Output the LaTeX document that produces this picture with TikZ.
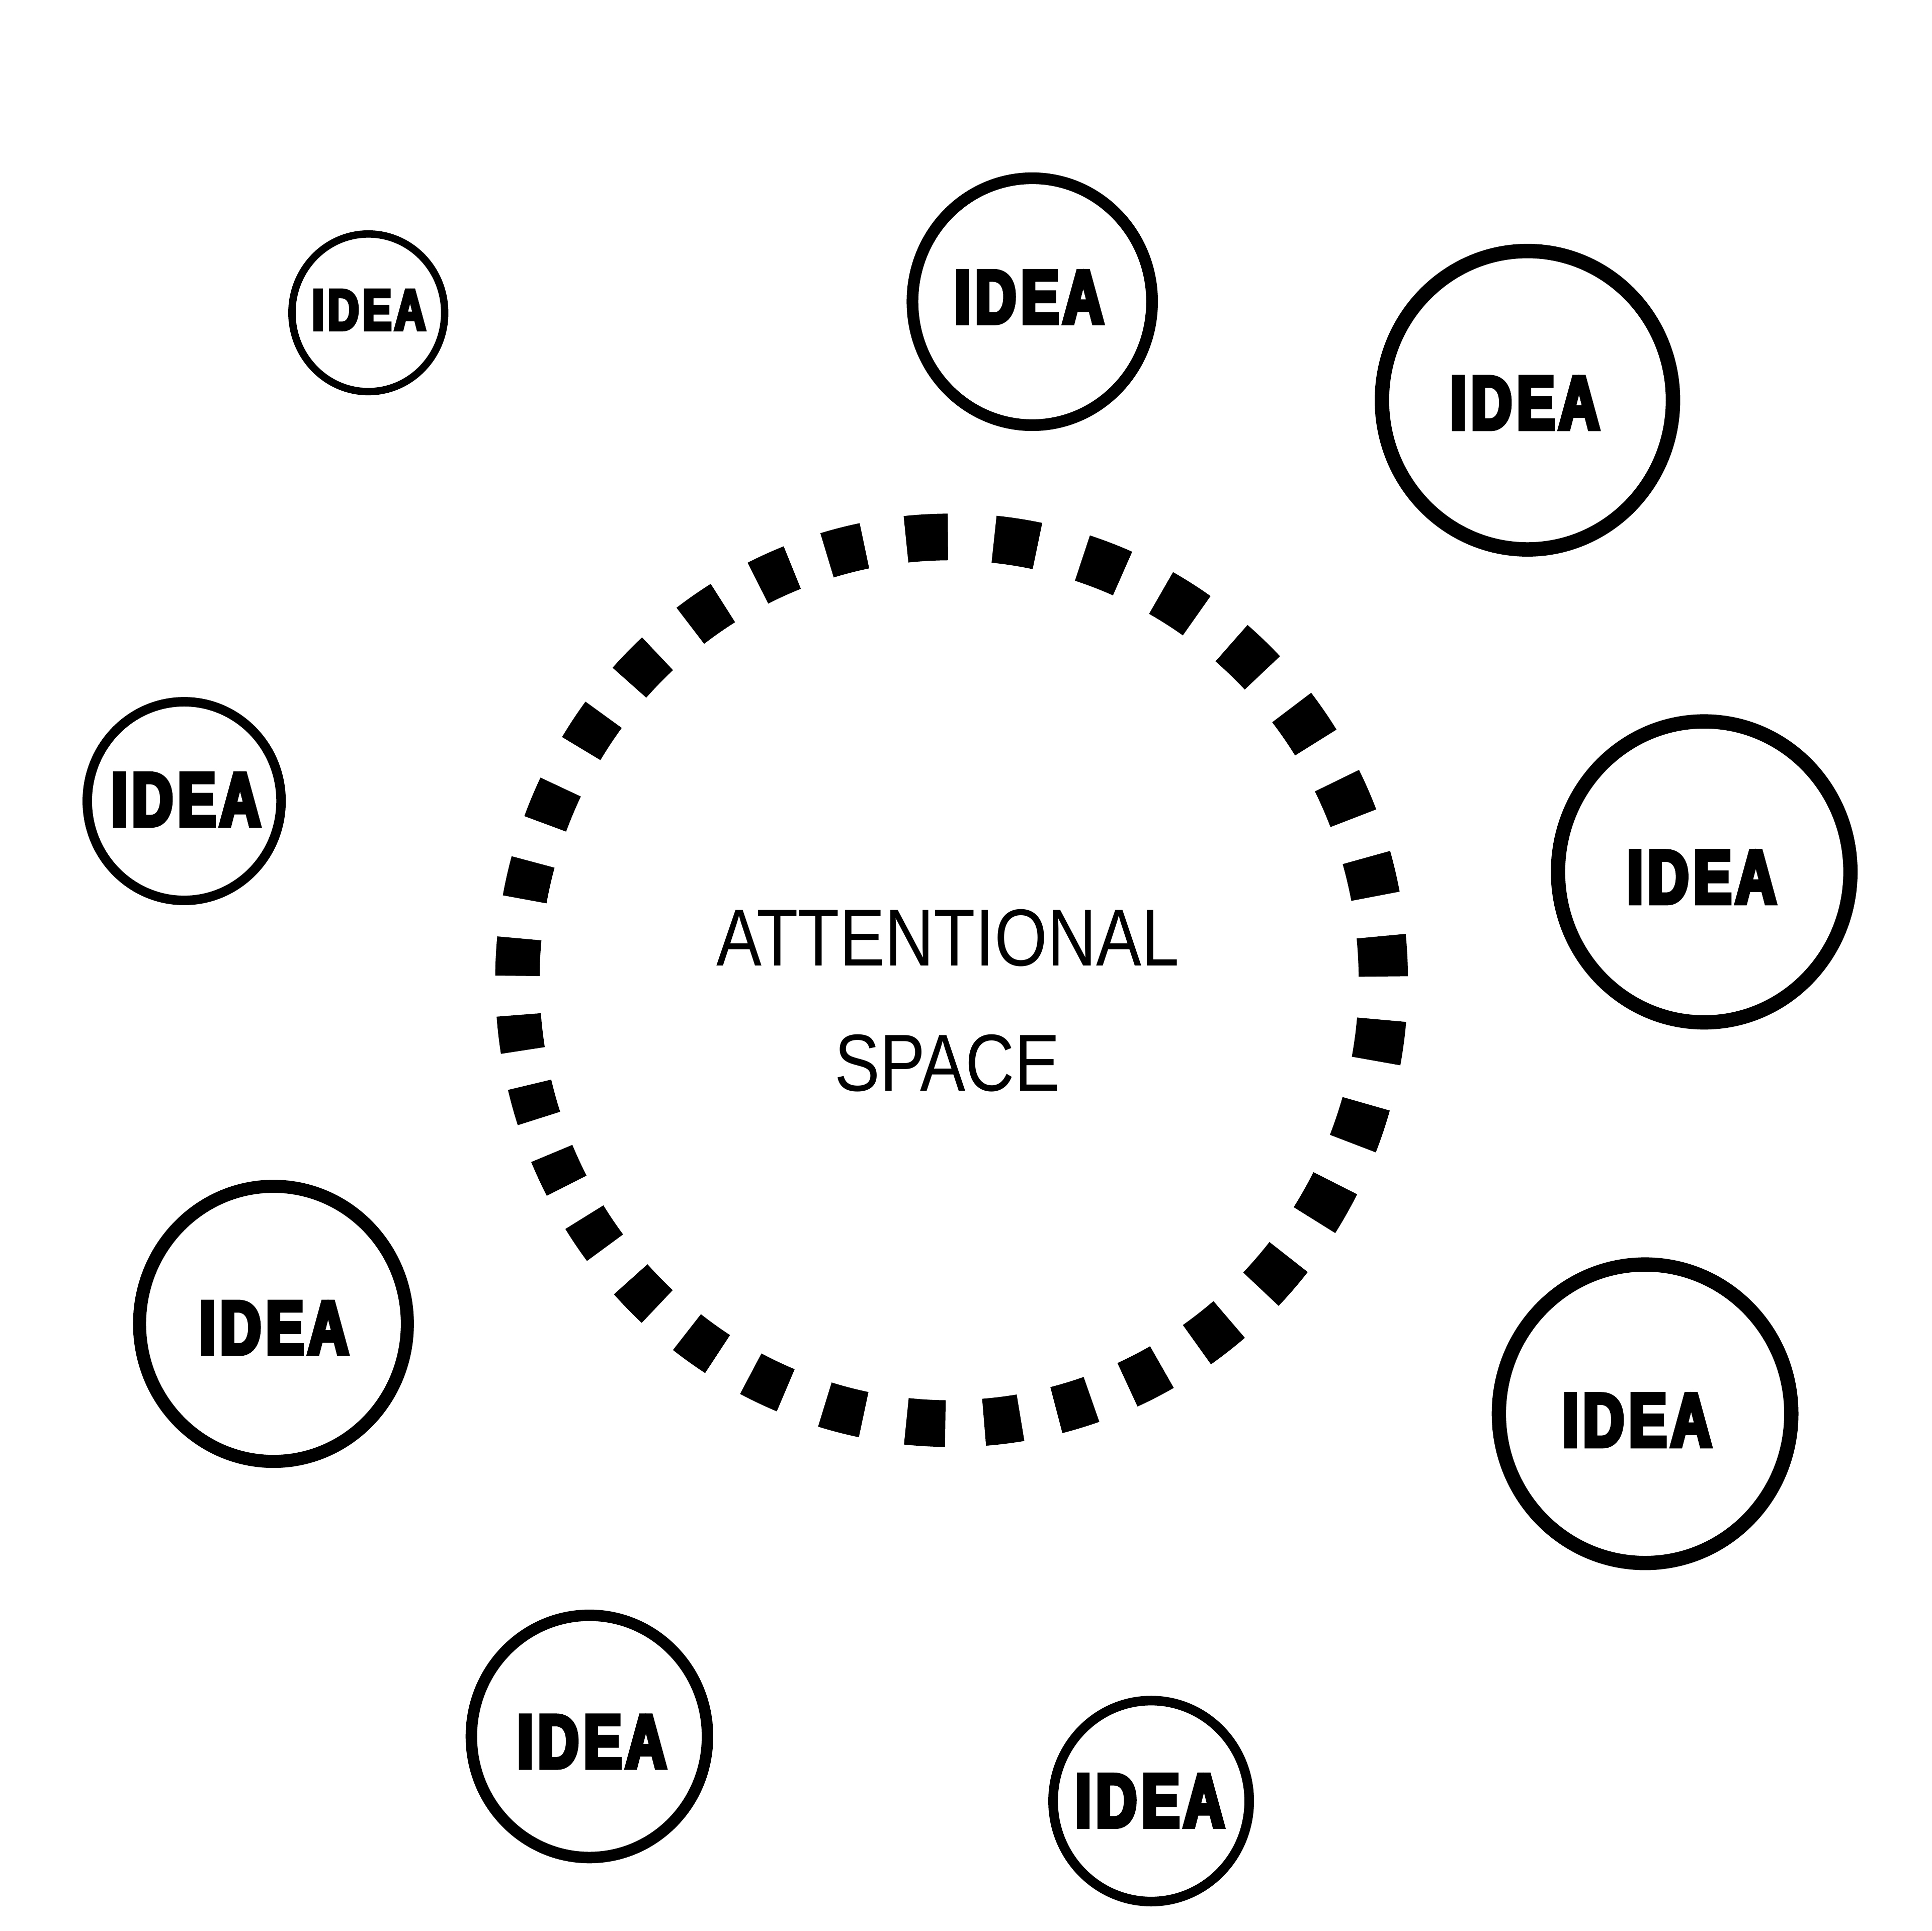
\documentclass[tikz,border=0pt]{standalone}
\usepackage{fontspec}
\newfontfamily\ideafont{Liberation Sans}[FakeStretch=0.75,BoldFeatures={FakeBold=6}]
\newfontfamily\attfont{Liberation Sans}[FakeStretch=0.84]
\newcommand\ideaword{I\kern0.064em D\kern0.068em E\kern0.053em A}
\tikzset{
  bubble/.style={draw=black, line width=#1*0.28453pt},
  ringdash/.style={draw=black, line cap=butt},
  ideatext/.style={anchor=base, inner sep=0pt, font=\ideafont\bfseries\fontsize{17.4}{18}\selectfont},
  ideasmall/.style={anchor=base, inner sep=0pt, font=\ideafont\bfseries\fontsize{13.25}{14}\selectfont},
  atttext/.style={anchor=base, inner sep=0pt, font=\attfont\fontsize{18.67}{19}\selectfont}
}
\begin{document}
\begin{tikzpicture}[x=0.01cm,y=0.01cm]
\useasboundingbox (0,0) rectangle (1568,1568);
\fill[white] (0,0) rectangle (1568,1568);
% dashed ring
\foreach \t/\l in {93.1/5.56, 81.3/5.81, 69.4/5.68, 58.1/5.56, 46.7/5.61, 35.2/5.54, 24.1/5.32, 13.5/5.15, 3.1/5.22,
  -7.8/5.39, -18.9/5.44, -30.0/5.51, -41.4/5.54, -52.6/5.37, -63.3/5.10, -73.4/4.85, -83.1/4.86, -93.25/5.17,
  -104.2/5.30, -114.9/5.10, -125.0/4.95, -135.1/4.97, -145.3/4.80, -154.7/4.61, -164.1/4.53, -173.2/4.63,
  -183.0/4.85, -193.0/4.96, -203.25/5.18, -214.15/5.28, -224.8/5.28, -235.7/5.22, -246.1/4.97, -256.0/5.10}{
  \pgfmathsetmacro\a{\t-\l/2}
  \pgfmathsetmacro\b{\t+\l/2}
  \pgfmathsetmacro\w{(38+2*cos(\t))*0.28453}
  \draw[ringdash, line width=\w pt] ([shift={(\a:351.5 and 360)}]771.5,772) arc[start angle=\a, end angle=\b, x radius=351.5, y radius=360];
}
\node[atttext] (att) at (769.5,784) {ATTENTIONAL};
\node[atttext] (spc) at (769,682) {SPACE};
% idea bubbles
\draw[bubble=6]    (299,1314)   ellipse [x radius=62,    y radius=64];
\draw[bubble=9.5]  (838,1323)   ellipse [x radius=97.25, y radius=100.25];
\draw[bubble=11.7] (1240,1243)  ellipse [x radius=118.15,y radius=121.15];
\draw[bubble=7.7]  (149.5,917.5) ellipse [x radius=78.65, y radius=80.65];
\draw[bubble=11.6] (1383.5,860) ellipse [x radius=118.7, y radius=122.2];
\draw[bubble=10.6] (222,493)    ellipse [x radius=108.7, y radius=111.7];
\draw[bubble=11.6] (1335.5,420) ellipse [x radius=118.7, y radius=121.2];
\draw[bubble=9.3]  (478.5,158)  ellipse [x radius=95.85, y radius=98.35];
\draw[bubble=7.8]  (934.5,105.5) ellipse [x radius=79.6, y radius=81.6];
\node[ideasmall] (t1) at (299.5,1300.3) {\ideaword};
\node[ideatext] (t2) at (835.5,1305.7) {\ideaword};
\node[ideatext] (t3) at (1238,1219.7) {\ideaword};
\node[ideatext] (t4) at (151,897.7) {\ideaword};
\node[ideatext] (t5) at (1381.5,834.7) {\ideaword};
\node[ideatext] (t6) at (222.5,468.7) {\ideaword};
\node[ideatext] (t7) at (1329,393.7) {\ideaword};
\node[ideatext] (t8) at (480.5,132.7) {\ideaword};
\node[ideatext] (t9) at (933.5,84.7) {\ideaword};
\end{tikzpicture}
\end{document}
